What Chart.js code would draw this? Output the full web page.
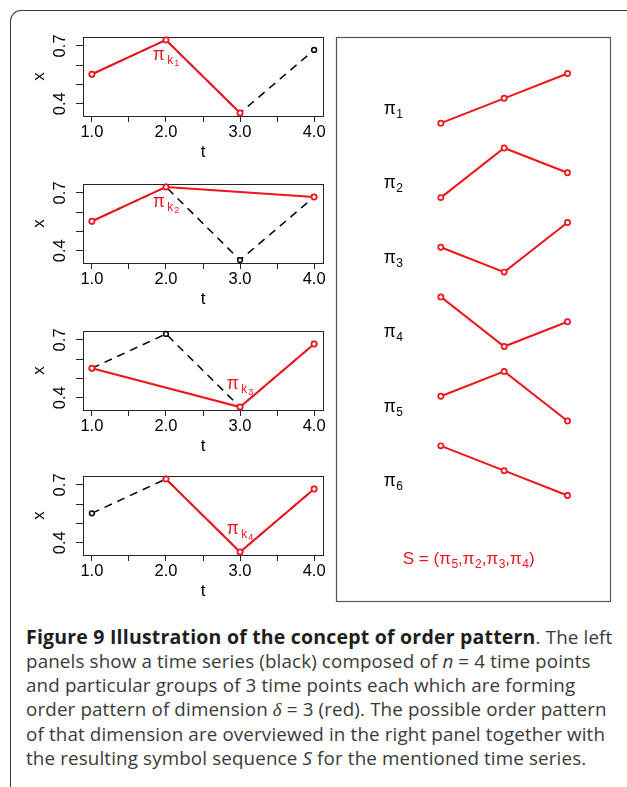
<!DOCTYPE html>
<html>
<head>
<meta charset="utf-8">
<script src="https://cdn.jsdelivr.net/npm/chart.js@4/dist/chart.umd.min.js"></script>
<style>
  html, body { margin: 0; padding: 0; background: #fff; }
  body { width: 627px; height: 787px; position: relative; overflow: hidden; }
  #frame {
    position: absolute; left: 10px; top: 10px; width: 660px; height: 820px;
    border-top: 1.6px solid #3c3c3c; border-left: 1.6px solid #3c3c3c;
    border-top-left-radius: 11px; box-sizing: border-box;
  }
  canvas { position: absolute; }
  #caption {
    position: absolute; left: 26px; top: 625px; width: 600px;
    font-family: "Open Sans", sans-serif; font-size: 18.8px; line-height: 24px;
    letter-spacing: 0.14px; color: #3a3a3a; white-space: nowrap;
  }
  #caption b { color: #1e1e1e; font-size: 19.5px; letter-spacing: 0.2px; }
  .greek { font-family: "Liberation Serif", serif; font-style: italic; }
</style>
</head>
<body>
<div id="frame"></div>
<canvas id="panel1" width="330" height="146" style="left:0;top:17px"></canvas>
<canvas id="panel2" width="330" height="146" style="left:0;top:164px"></canvas>
<canvas id="panel3" width="330" height="146" style="left:0;top:311px"></canvas>
<canvas id="panel4" width="330" height="146" style="left:0;top:456px"></canvas>
<canvas id="patterns" width="285" height="577" style="left:330px;top:30px"></canvas>
<div id="caption"><b>Figure 9 Illustration of the concept of order pattern</b>. The left<br>panels show a time series (black) composed of <i>n</i> = 4 time points<br>and particular groups of 3 time points each which are forming<br>order pattern of dimension <span class="greek">δ</span> = 3 (red). The possible order pattern<br>of that dimension are overviewed in the right panel together with<br>the resulting symbol sequence <i>S</i> for the mentioned time series.</div>
<script>
// time series
const T = [1, 2, 3, 4];
const X = [0.553, 0.731, 0.352, 0.679];

// time points that form the order pattern in each left panel
const GROUPS = [[1, 2, 3], [1, 2, 4], [1, 3, 4], [2, 3, 4]];
const GROUP_SUBS = ['1', '2', '3', '4'];
const GROUP_LABEL_T = [2, 2, 3, 3];
const GROUP_LABEL_X = [0.648, 0.648, 0.468, 0.468];

// axis ticks
const X_TICKS = [1, 1.5, 2, 2.5, 3, 3.5, 4];
const Y_TICKS = [0.4, 0.5, 0.6, 0.7];
const Y_LABELLED = [0.4, 0.7];

// possible order patterns of dimension 3 (ranks of the three points)
const PATTERN_RANKS = [[1, 2, 3], [1, 3, 2], [2, 1, 3], [3, 1, 2], [2, 3, 1], [3, 2, 1]];
const PATTERN_SUBS = ['1', '2', '3', '4', '5', '6'];
// resulting symbol sequence
const SEQUENCE = ['5', '2', '3', '4'];

const RED = '#f0141c';
const AXIS = '#262626';
const FONT = '"Liberation Sans", Arial, Helvetica, sans-serif';

// R-style axis limits: data range extended by 4% on each side
function padRange(vals) {
  const lo = Math.min(...vals), hi = Math.max(...vals), d = (hi - lo) * 0.04;
  return [lo - d, hi + d];
}
const [T_MIN, T_MAX] = padRange(T);
const [X_MIN, X_MAX] = padRange(X);

// draw a plotmath-like run of text pieces (base + subscripts), centred at cx
function drawMath(ctx, parts, cx, cy, color) {
  ctx.save();
  ctx.fillStyle = color;
  ctx.textBaseline = 'alphabetic';
  ctx.textAlign = 'left';
  let total = 0;
  const widths = parts.map(p => {
    ctx.font = p.size + 'px ' + FONT;
    const w = ctx.measureText(p.text).width + (p.gap || 0);
    total += w;
    return w;
  });
  let x = cx - total / 2;
  parts.forEach((p, i) => {
    ctx.font = p.size + 'px ' + FONT;
    ctx.fillText(p.text, x + (p.gap || 0), cy + (p.dy || 0));
    x += widths[i];
  });
  ctx.restore();
}

const boxPlugin = {
  id: 'box',
  beforeDatasetsDraw(chart, args, opts) {
    const { ctx, chartArea: a } = chart;
    ctx.save();
    ctx.strokeStyle = opts.color;
    ctx.lineWidth = opts.width;
    ctx.strokeRect(Math.round(a.left) + 0.5, Math.round(a.top) + 0.5,
                   Math.round(a.right - a.left), Math.round(a.bottom - a.top));
    ctx.restore();
  }
};

const piLabelPlugin = {
  id: 'piLabel',
  afterDatasetsDraw(chart, args, opts) {
    const { ctx, scales } = chart;
    const cx = scales.x.getPixelForValue(opts.t);
    const cy = scales.y.getPixelForValue(opts.v) + 4.4; // baseline below glyph centre
    drawMath(ctx, [
      { text: 'π', size: 17.5 },
      { text: 'k', size: 12, dy: 4, gap: 2.5 },
      { text: opts.sub, size: 9, dy: 5.5, gap: 1 }
    ], cx, cy, RED);
  }
};

function panel(id, k) {
  const series = T.map((t, i) => ({ x: t, y: X[i] }));
  const group = GROUPS[k].map(t => ({ x: T[t - 1], y: X[t - 1] }));
  const tickFont = { family: FONT, size: 16.5 };
  const titleFont = { family: FONT, size: 17 };
  new Chart(document.getElementById(id), {
    type: 'line',
    data: {
      datasets: [
        { data: group, borderColor: RED, borderWidth: 2, pointRadius: 2.6, pointBorderWidth: 1.7,
          pointBorderColor: RED, pointBackgroundColor: '#fff', order: 0, clip: false },
        { data: series, borderColor: '#000', borderWidth: 1.5, borderDash: [8, 6],
          pointRadius: 2.4, pointBorderWidth: 1.5, pointBorderColor: '#000',
          pointBackgroundColor: '#fff', order: 1, clip: false }
      ]
    },
    options: {
      responsive: false, animation: false, events: [],
      layout: { padding: { top: 20, right: 7, left: 0, bottom: 0 } },
      plugins: {
        legend: { display: false }, tooltip: { enabled: false },
        box: { color: AXIS, width: 1 },
        piLabel: { t: GROUP_LABEL_T[k], v: GROUP_LABEL_X[k], sub: GROUP_SUBS[k] }
      },
      scales: {
        x: {
          type: 'linear', min: T_MIN, max: T_MAX,
          afterBuildTicks: s => { s.ticks = X_TICKS.map(v => ({ value: v })); },
          afterFit: s => { s.height = 47; },
          ticks: { font: tickFont, color: '#000', padding: 1, autoSkip: false, maxRotation: 0,
                   callback: v => Number.isInteger(v) ? v.toFixed(1) : '' },
          grid: { drawOnChartArea: false, tickLength: 6, color: AXIS, tickWidth: 1 },
          border: { display: false },
          title: { display: true, text: 't', font: titleFont, color: '#000', padding: 0 }
        },
        y: {
          type: 'linear', min: X_MIN, max: X_MAX,
          afterBuildTicks: s => { s.ticks = Y_TICKS.map(v => ({ value: v })); },
          afterFit: s => { s.width = 83; },
          ticks: { font: tickFont, color: '#000', padding: 4, autoSkip: false,
                   minRotation: 90, maxRotation: 90, crossAlign: 'center',
                   callback: v => Y_LABELLED.includes(v) ? v.toFixed(1) : '' },
          grid: { drawOnChartArea: false, tickLength: 7, color: AXIS, tickWidth: 1 },
          border: { display: false },
          title: { display: true, text: 'x', font: titleFont, color: '#000', padding: { top: 29.5, bottom: 0 } }
        }
      }
    },
    plugins: [boxPlugin, piLabelPlugin]
  });
}

['panel1', 'panel2', 'panel3', 'panel4'].forEach((id, k) => panel(id, k));

// right panel: all order patterns stacked, three levels per pattern
const patternLabelsPlugin = {
  id: 'patternLabels',
  afterDatasetsDraw(chart) {
    const { ctx, scales } = chart;
    const lx = scales.x.getPixelForValue(0.25);
    PATTERN_SUBS.forEach((sub, i) => {
      const cy = scales.y.getPixelForValue(1.55 - 3 * i) + 4.4;
      drawMath(ctx, [
        { text: 'π', size: 17.5 },
        { text: sub, size: 12, dy: 4, gap: 0.5 }
      ], lx, cy, '#000');
    });
    const parts = [{ text: 'S = (', size: 17 }];
    SEQUENCE.forEach((s, i) => {
      parts.push({ text: 'π', size: 17 });
      parts.push({ text: s, size: 12, dy: 4, gap: 0.5 });
      parts.push({ text: i < SEQUENCE.length - 1 ? ',' : ')', size: 17 });
    });
    drawMath(ctx, parts, scales.x.getPixelForValue(1.44), scales.y.getPixelForValue(-16.52) + 6.1, RED);
  }
};

new Chart(document.getElementById('patterns'), {
  type: 'line',
  data: {
    datasets: PATTERN_RANKS.map((ranks, i) => ({
      data: ranks.map((r, j) => ({ x: j + 1, y: r - 3 * i })),
      borderColor: RED, borderWidth: 2, pointRadius: 2.6, pointBorderWidth: 1.7,
      pointBorderColor: RED, pointBackgroundColor: '#fff', clip: false
    }))
  },
  options: {
    responsive: false, animation: false, events: [],
    layout: { padding: { top: 7, left: 5, right: 5, bottom: 6 } },
    plugins: { legend: { display: false }, tooltip: { enabled: false }, box: { color: '#555', width: 1.2 } },
    scales: {
      x: { type: 'linear', min: -0.66, max: 3.66, display: false },
      y: { type: 'linear', min: -18.25, max: 4.47, display: false }
    }
  },
  plugins: [boxPlugin, patternLabelsPlugin]
});
</script>
</body>
</html>
